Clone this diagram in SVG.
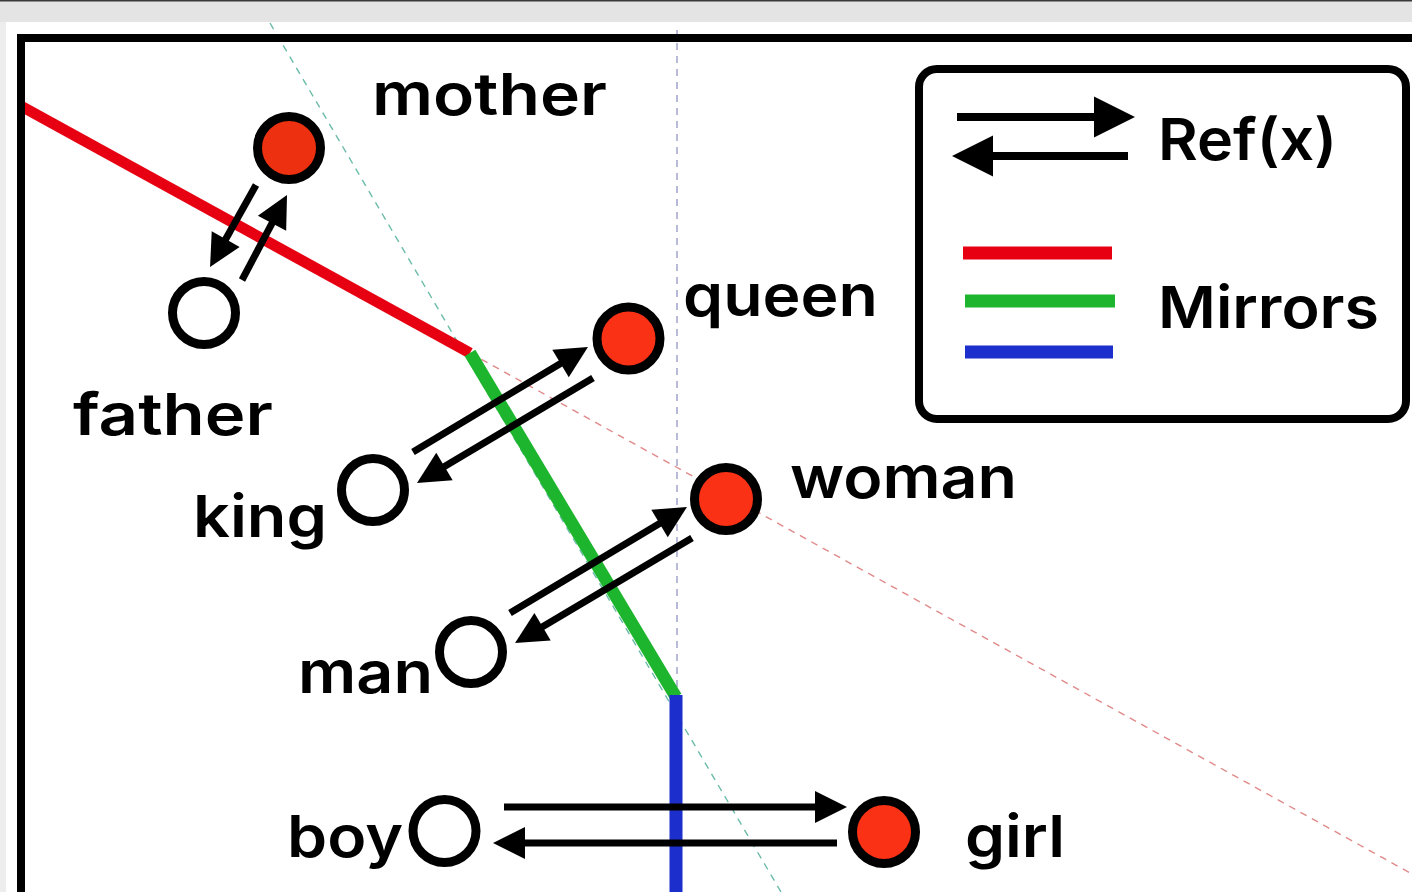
<svg xmlns="http://www.w3.org/2000/svg" width="1412" height="892" viewBox="0 0 1412 892">
  <defs>
    <style>
      .lbl { font-family: Inter, "DejaVu Sans", "Liberation Sans", sans-serif; font-weight: 600; font-size: 58px; fill: #000; }
      .node { stroke: #000; stroke-width: 9; }
      .hot { fill: #fb3116; }
      .cold { fill: #fff; }
      .arr { stroke: #000; stroke-width: 7; fill: none; marker-end: url(#head); }
      .arrL { stroke: #000; stroke-width: 8; fill: none; marker-end: url(#headL); }
      .guide { fill: none; stroke-width: 1.4; stroke-dasharray: 7 6; }
    </style>
    <marker id="head" markerUnits="userSpaceOnUse" markerWidth="40" markerHeight="40" viewBox="0 -20 40 40" refX="1" refY="0" orient="auto" overflow="visible">
      <path d="M0,-16 L32,0 L0,16 Z" fill="#000"/>
    </marker>
    <marker id="headL" markerUnits="userSpaceOnUse" markerWidth="50" markerHeight="50" viewBox="0 -25 50 50" refX="1" refY="0" orient="auto" overflow="visible">
      <path d="M0,-20.5 L41,0 L0,20.5 Z" fill="#000"/>
    </marker>
  </defs>

  <!-- page background -->
  <rect x="0" y="0" width="1412" height="892" fill="#fff"/>
  <rect x="0" y="0" width="1412" height="22" fill="#e4e4e4"/>
  <rect x="0" y="22" width="6" height="870" fill="#ededed"/>
  <line x1="0" y1="0.75" x2="1412" y2="0.75" stroke="#3a3a3a" stroke-width="1.5"/>

  <!-- guide lines (mirror extensions) -->
  <g id="guides">
    <line class="guide" x1="677" y1="30" x2="677" y2="892" stroke="#9c9cc8"/>
    <line class="guide" x1="270" y1="23" x2="781" y2="892" stroke="#6cbcaa"/>
    <line class="guide" x1="470" y1="353" x2="1412" y2="874" stroke="#e08a8a"/>
  </g>

  <!-- mirror segments -->
  <g id="mirrors" fill="none" stroke-linecap="butt">
    <line x1="20" y1="105.5" x2="470" y2="353" stroke="#e60012" stroke-width="11"/>
    <line x1="470" y1="353" x2="676" y2="697" stroke="#1db52d" stroke-width="12.5"/>
    <line x1="676" y1="695" x2="676" y2="892" stroke="#1c2fcc" stroke-width="13"/>
  </g>

  <!-- outer frame -->
  <path d="M21,892 V38 H1412" fill="none" stroke="#000" stroke-width="8"/>

  <!-- connectors: Ref(x) arrows between word pairs -->
  <g id="connectors">
    <line class="arr" x1="256" y1="185" x2="225.2" y2="240"/>
    <line class="arr" x1="242" y1="280" x2="272.5" y2="222.4"/>
    <line class="arr" x1="413" y1="452" x2="561.4" y2="362.9"/>
    <line class="arr" x1="593" y1="378" x2="443.6" y2="467.1"/>
    <line class="arr" x1="510" y1="613" x2="660.4" y2="522.9"/>
    <line class="arr" x1="692" y1="538" x2="541.7" y2="627.2"/>
    <line class="arr" x1="504" y1="807" x2="816" y2="807"/>
    <line class="arr" x1="837" y1="843" x2="524" y2="843"/>
  </g>

  <!-- word nodes -->
  <g id="mother">
    <circle class="node hot" cx="289" cy="148" r="31.5" style="fill:#ec3010"/>
    <text class="lbl" x="372" y="115" textLength="235" lengthAdjust="spacingAndGlyphs">mother</text>
  </g>
  <g id="father">
    <circle class="node cold" cx="204" cy="313" r="31.5"/>
    <text class="lbl" x="73" y="435" textLength="200" lengthAdjust="spacingAndGlyphs">father</text>
  </g>
  <g id="queen">
    <circle class="node hot" cx="628.5" cy="338.5" r="31.5"/>
    <text class="lbl" x="683" y="316" textLength="195" lengthAdjust="spacingAndGlyphs">queen</text>
  </g>
  <g id="king">
    <circle class="node cold" cx="373" cy="490" r="31.5"/>
    <text class="lbl" x="193" y="537" textLength="134" lengthAdjust="spacingAndGlyphs">king</text>
  </g>
  <g id="woman">
    <circle class="node hot" cx="726" cy="499" r="31.5"/>
    <text class="lbl" x="790" y="498" textLength="227" lengthAdjust="spacingAndGlyphs">woman</text>
  </g>
  <g id="man">
    <circle class="node cold" cx="471" cy="652" r="31.5"/>
    <text class="lbl" x="298" y="693" textLength="135" lengthAdjust="spacingAndGlyphs">man</text>
  </g>
  <g id="boy">
    <circle class="node cold" cx="444.5" cy="831" r="31.5"/>
    <text class="lbl" x="287" y="857" textLength="116" lengthAdjust="spacingAndGlyphs">boy</text>
  </g>
  <g id="girl">
    <circle class="node hot" cx="884" cy="832" r="31.5"/>
    <text class="lbl" x="965" y="857" textLength="100" lengthAdjust="spacingAndGlyphs">girl</text>
  </g>

  <!-- legend -->
  <g id="legend">
    <rect x="919" y="69" width="487" height="350" rx="18" ry="18" fill="#fff" stroke="#000" stroke-width="8"/>
    <line class="arrL" x1="957" y1="117" x2="1095" y2="117"/>
    <line class="arrL" x1="1128" y1="156" x2="992" y2="156"/>
    <text class="lbl" x="1158" y="160" textLength="179" lengthAdjust="spacingAndGlyphs">Ref(x)</text>
    <line x1="963" y1="253" x2="1112" y2="253" stroke="#e60012" stroke-width="13"/>
    <line x1="965" y1="301" x2="1115" y2="301" stroke="#1db52d" stroke-width="13"/>
    <line x1="965" y1="352" x2="1113" y2="352" stroke="#1c2fcc" stroke-width="13"/>
    <text class="lbl" x="1158" y="328" textLength="221" lengthAdjust="spacingAndGlyphs">Mirrors</text>
  </g>
</svg>
